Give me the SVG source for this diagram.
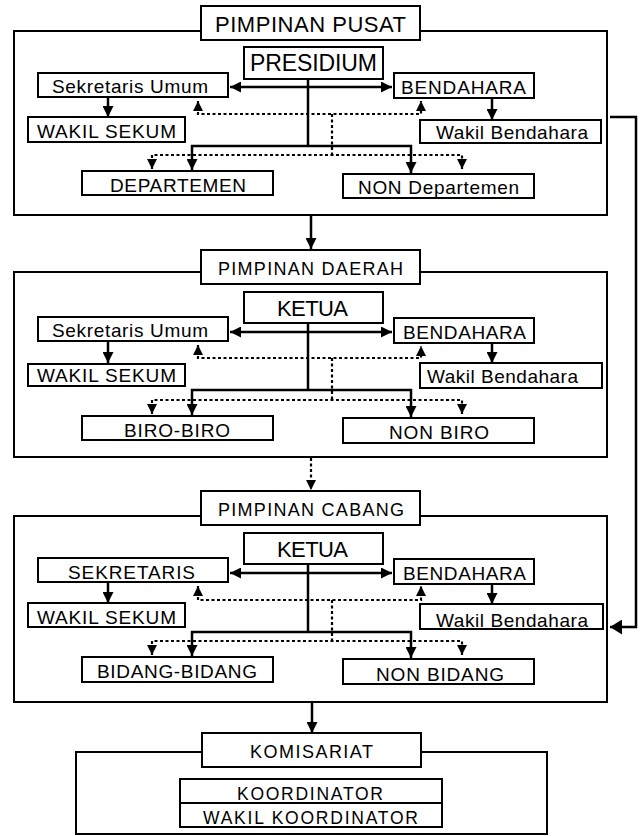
<svg xmlns="http://www.w3.org/2000/svg" width="642" height="836" viewBox="0 0 642 836">
<style>
.frame{fill:none;stroke:#000;stroke-width:2}
.box{fill:#fff;stroke:#000;stroke-width:2}
.t{font-family:"Liberation Sans",Arial,sans-serif;fill:#000;font-size:19px}
.big{font-size:22px}
.mid{font-size:18px}
.sm{font-size:17.5px}
.solid{fill:none;stroke:#000;stroke-width:2.5}
.dot{fill:none;stroke:#000;stroke-width:2.2;stroke-dasharray:3 2.5}
</style>
<defs>
<marker id="ah" viewBox="0 0 11 11" refX="11" refY="5.5" markerWidth="11" markerHeight="11" markerUnits="userSpaceOnUse" orient="auto-start-reverse"><path d="M0,0 L11,5.5 L0,11 z" fill="#000"/></marker>
<marker id="ahd" viewBox="0 0 10 10" refX="10" refY="5" markerWidth="10" markerHeight="10" markerUnits="userSpaceOnUse" orient="auto-start-reverse"><path d="M0,0 L10,5 L0,10 z" fill="#000"/></marker>
<marker id="ahb" viewBox="0 0 12 15" refX="12" refY="7.5" markerWidth="12" markerHeight="15" markerUnits="userSpaceOnUse" orient="auto"><path d="M0,0 L12,7.5 L0,15 z" fill="#000"/></marker>
</defs>

<g id="frames">
<rect class="frame" x="14" y="31" width="593" height="184"/>
<rect class="frame" x="14" y="272" width="593" height="185"/>
<rect class="frame" x="14" y="516" width="593" height="186"/>
<rect class="frame" x="76" y="752" width="471" height="82"/>
</g>

<g id="connectors">
<!-- Pusat -->
<path class="solid" d="M230,87 H392" marker-start="url(#ah)" marker-end="url(#ah)"/>
<path class="solid" d="M108,98 V117" marker-end="url(#ah)"/>
<path class="solid" d="M492,99 V120" marker-end="url(#ah)"/>
<path class="solid" d="M308,80 V146"/>
<path class="solid" d="M192,170 V146 H411 V173" marker-start="url(#ah)" marker-end="url(#ah)"/>
<path class="dot" d="M198,101 V114 H421 V101" marker-start="url(#ahd)" marker-end="url(#ahd)"/>
<path class="dot" d="M332,114 V155"/>
<path class="dot" d="M152,169 V155 H462 V169" marker-start="url(#ahd)" marker-end="url(#ahd)"/>
<path class="solid" d="M311,216 V249" marker-end="url(#ah)"/>
<!-- Daerah -->
<path class="solid" d="M230,332 H392" marker-start="url(#ah)" marker-end="url(#ah)"/>
<path class="solid" d="M108,342 V363" marker-end="url(#ah)"/>
<path class="solid" d="M492,344 V363" marker-end="url(#ah)"/>
<path class="solid" d="M308,324 V390"/>
<path class="solid" d="M192,415 V390 H411 V417" marker-start="url(#ah)" marker-end="url(#ah)"/>
<path class="dot" d="M198,345 V358 H421 V346" marker-start="url(#ahd)" marker-end="url(#ahd)"/>
<path class="dot" d="M332,358 V400"/>
<path class="dot" d="M152,414 V400 H462 V414" marker-start="url(#ahd)" marker-end="url(#ahd)"/>
<path class="dot" d="M311,458 V490" marker-end="url(#ahd)"/>
<!-- Cabang -->
<path class="solid" d="M230,573 H392" marker-start="url(#ah)" marker-end="url(#ah)"/>
<path class="solid" d="M108,583 V603" marker-end="url(#ah)"/>
<path class="solid" d="M492,585 V604" marker-end="url(#ah)"/>
<path class="solid" d="M308,565 V632"/>
<path class="solid" d="M192,656 V632 H411 V658" marker-start="url(#ah)" marker-end="url(#ah)"/>
<path class="dot" d="M198,586 V600 H421 V586" marker-start="url(#ahd)" marker-end="url(#ahd)"/>
<path class="dot" d="M332,600 V641"/>
<path class="dot" d="M152,655 V641 H462 V655" marker-start="url(#ahd)" marker-end="url(#ahd)"/>
<path class="solid" d="M312,703 V733" marker-end="url(#ah)"/>
<!-- side link -->
<path class="solid" d="M610,117 H636 V627 H610" marker-end="url(#ahb)"/>
</g>

<!-- PUSAT -->
<g id="pusat-title"><rect class="box" x="201" y="6" width="219" height="34"/><text class="t big" x="215" y="32" textLength="191" lengthAdjust="spacing">PIMPINAN PUSAT</text></g>
<g id="presidium"><rect class="box" x="244" y="47" width="139" height="32"/><text class="t" style="font-size:23px" x="250" y="71" textLength="127" lengthAdjust="spacing">PRESIDIUM</text></g>
<g id="pusat-sekum"><rect class="box" x="38" y="73" width="190" height="24"/><text class="t" x="52" y="93" textLength="156" lengthAdjust="spacing">Sekretaris Umum</text></g>
<g id="pusat-wakil-sekum"><rect class="box" x="28" y="117" width="157" height="25"/><text class="t" x="37" y="138" textLength="139" lengthAdjust="spacing">WAKIL SEKUM</text></g>
<g id="pusat-departemen"><rect class="box" x="82" y="171" width="191" height="24"/><text class="t" x="110" y="192" textLength="136" lengthAdjust="spacing">DEPARTEMEN</text></g>
<g id="pusat-bendahara"><rect class="box" x="394" y="73" width="140" height="25"/><text class="t" x="401" y="94" textLength="125" lengthAdjust="spacing">BENDAHARA</text></g>
<g id="pusat-wakil-bendahara"><rect class="box" x="420" y="120" width="181" height="23"/><text class="t" x="436" y="139" textLength="152" lengthAdjust="spacing">Wakil Bendahara</text></g>
<g id="pusat-non-departemen"><rect class="box" x="343" y="174" width="191" height="24"/><text class="t" x="358" y="194" textLength="161" lengthAdjust="spacing">NON Departemen</text></g>

<!-- DAERAH -->
<g id="daerah-title"><rect class="box" x="201" y="250" width="219" height="34"/><text class="t mid" x="218" y="275" textLength="185" lengthAdjust="spacing">PIMPINAN DAERAH</text></g>
<g id="daerah-ketua"><rect class="box" x="244" y="292" width="139" height="31"/><text class="t big" x="277" y="316" textLength="71" lengthAdjust="spacing">KETUA</text></g>
<g id="daerah-sekum"><rect class="box" x="38" y="317" width="190" height="24"/><text class="t" x="52" y="337" textLength="156" lengthAdjust="spacing">Sekretaris Umum</text></g>
<g id="daerah-wakil-sekum"><rect class="box" x="28" y="364" width="157" height="22"/><text class="t" x="37" y="382" textLength="139" lengthAdjust="spacing">WAKIL SEKUM</text></g>
<g id="daerah-biro"><rect class="box" x="82" y="416" width="191" height="24"/><text class="t" x="124" y="437" textLength="106" lengthAdjust="spacing">BIRO-BIRO</text></g>
<g id="daerah-bendahara"><rect class="box" x="394" y="318" width="140" height="25"/><text class="t" x="403" y="339" textLength="123" lengthAdjust="spacing">BENDAHARA</text></g>
<g id="daerah-wakil-bendahara"><rect class="box" x="420" y="363" width="182" height="25"/><text class="t" x="427" y="383" textLength="151" lengthAdjust="spacing">Wakil Bendahara</text></g>
<g id="daerah-non-biro"><rect class="box" x="343" y="418" width="191" height="25"/><text class="t" x="389" y="439" textLength="100" lengthAdjust="spacing">NON BIRO</text></g>

<!-- CABANG -->
<g id="cabang-title"><rect class="box" x="201" y="491" width="219" height="34"/><text class="t mid" x="218" y="516" textLength="186" lengthAdjust="spacing">PIMPINAN CABANG</text></g>
<g id="cabang-ketua"><rect class="box" x="244" y="533" width="139" height="31"/><text class="t big" x="277" y="557" textLength="71" lengthAdjust="spacing">KETUA</text></g>
<g id="cabang-sekretaris"><rect class="box" x="38" y="558" width="190" height="24"/><text class="t" x="68" y="579" textLength="127" lengthAdjust="spacing">SEKRETARIS</text></g>
<g id="cabang-wakil-sekum"><rect class="box" x="28" y="603" width="157" height="24"/><text class="t" x="37" y="624" textLength="139" lengthAdjust="spacing">WAKIL SEKUM</text></g>
<g id="cabang-bidang"><rect class="box" x="82" y="657" width="191" height="25"/><text class="t" x="97" y="678" textLength="160" lengthAdjust="spacing">BIDANG-BIDANG</text></g>
<g id="cabang-bendahara"><rect class="box" x="394" y="559" width="140" height="25"/><text class="t" x="403" y="580" textLength="123" lengthAdjust="spacing">BENDAHARA</text></g>
<g id="cabang-wakil-bendahara"><rect class="box" x="420" y="604" width="183" height="25"/><text class="t" x="436" y="627" textLength="152" lengthAdjust="spacing">Wakil Bendahara</text></g>
<g id="cabang-non-bidang"><rect class="box" x="343" y="659" width="191" height="25"/><text class="t" x="376" y="681" textLength="128" lengthAdjust="spacing">NON BIDANG</text></g>

<!-- KOMISARIAT -->
<g id="komisariat-title"><rect class="box" x="202" y="733" width="219" height="34"/><text class="t mid" x="250" y="758" textLength="123" lengthAdjust="spacing">KOMISARIAT</text></g>
<g id="koordinator"><rect class="box" x="180" y="779" width="262" height="24"/><text class="t sm" x="237" y="800" textLength="146" lengthAdjust="spacing">KOORDINATOR</text></g>
<g id="wakil-koordinator"><rect class="box" x="180" y="803" width="262" height="24"/><text class="t sm" x="203" y="824" textLength="215" lengthAdjust="spacing">WAKIL KOORDINATOR</text></g>
</svg>
